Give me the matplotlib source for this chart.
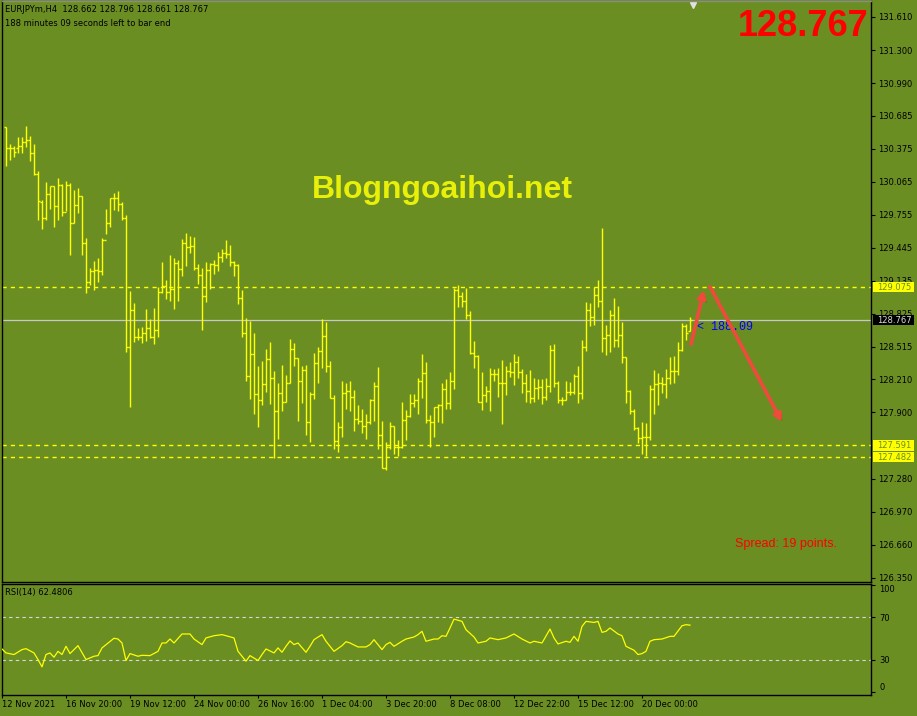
import matplotlib
matplotlib.use('Agg')
import matplotlib.pyplot as plt
import matplotlib.patheffects as pe
import matplotlib.transforms as mtrans
from matplotlib.patches import Rectangle
import numpy as np

plt.rcParams['font.family'] = ['DejaVu Sans']
plt.rcParams['font.size'] = 6

# EURJPYm H4 bars, 12 Nov - 21 Dec 2021
opens = [130.58, 130.38, 130.38, 130.38, 130.40, 130.44, 130.46, 130.33, 130.14, 129.87,
         129.72, 129.95, 130.02, 129.84, 130.03, 129.78, 130.03, 129.68, 129.85, 129.93,
         129.49, 129.12, 129.23, 129.24, 129.23, 129.52, 129.68, 129.91, 129.91, 129.86,
         129.72, 128.51, 128.86, 128.61, 128.61, 128.65, 128.69, 128.61, 128.67, 129.03,
         129.09, 129.03, 129.06, 129.30, 129.25, 129.49, 129.45, 129.46, 129.26, 129.19,
         128.99, 129.24, 129.29, 129.28, 129.36, 129.40, 129.39, 129.31, 129.28, 128.97,
         128.65, 128.24, 128.45, 128.07, 128.02, 128.17, 128.40, 128.22, 127.91, 128.08,
         128.00, 128.18, 128.50, 128.41, 128.20, 128.30, 127.81, 128.07, 128.36, 128.48,
         128.62, 128.34, 128.04, 127.63, 127.76, 128.08, 128.10, 128.05, 127.84, 127.82,
         127.77, 127.81, 128.02, 128.15, 127.69, 127.38, 127.58, 127.77, 127.58, 127.58,
         127.83, 127.87, 127.99, 128.02, 128.20, 128.27, 127.83, 127.81, 127.95, 127.97,
         128.12, 127.99, 128.20, 129.05, 128.99, 128.95, 128.81, 128.46, 128.43, 128.00,
         128.06, 128.10, 128.26, 128.26, 128.18, 128.18, 128.29, 128.28, 128.37, 128.28,
         128.18, 128.10, 128.04, 128.13, 128.14, 128.05, 128.15, 128.49, 128.18, 128.02,
         128.02, 128.09, 128.09, 128.24, 128.08, 128.51, 128.86, 128.80, 129.00, 128.95,
         128.60, 128.63, 128.81, 128.58, 128.63, 128.42, 128.10, 127.91, 127.75, 127.66,
         127.67, 127.67, 128.12, 128.17, 128.18, 128.17, 128.22, 128.29, 128.29, 128.49,
         128.71, 128.662]
highs = [130.58, 130.42, 130.40, 130.48, 130.48, 130.59, 130.49, 130.42, 130.17, 129.89,
         130.06, 130.02, 130.02, 130.10, 130.04, 130.07, 130.05, 129.99, 130.01, 129.93,
         129.54, 129.26, 129.32, 129.35, 129.54, 129.81, 129.91, 129.96, 129.98, 129.87,
         129.75, 129.04, 128.93, 128.69, 128.70, 128.87, 128.78, 128.88, 129.08, 129.31,
         129.14, 129.38, 129.35, 129.33, 129.53, 129.58, 129.56, 129.55, 129.29, 129.26,
         129.31, 129.30, 129.33, 129.41, 129.43, 129.52, 129.47, 129.32, 129.29, 129.05,
         128.79, 128.76, 128.65, 128.34, 128.38, 128.50, 128.56, 128.29, 128.18, 128.35,
         128.25, 128.59, 128.55, 128.41, 128.34, 128.35, 128.09, 128.46, 128.51, 128.78,
         128.75, 128.38, 128.06, 127.81, 128.20, 128.18, 128.20, 128.11, 127.97, 127.93,
         127.89, 128.03, 128.19, 128.33, 127.82, 127.62, 127.81, 127.77, 127.64, 128.00,
         127.92, 128.07, 128.07, 128.22, 128.45, 128.37, 127.88, 127.95, 127.98, 128.18,
         128.21, 128.28, 129.07, 129.10, 129.03, 129.07, 128.85, 128.57, 128.44, 128.28,
         128.15, 128.32, 128.31, 128.32, 128.39, 128.34, 128.37, 128.45, 128.43, 128.31,
         128.26, 128.30, 128.22, 128.21, 128.21, 128.22, 128.53, 128.54, 128.20, 128.05,
         128.20, 128.19, 128.26, 128.34, 128.58, 128.94, 128.93, 129.08, 129.14, 129.63,
         128.72, 128.86, 128.97, 128.90, 128.75, 128.42, 128.11, 127.93, 127.76, 127.81,
         127.80, 128.16, 128.30, 128.27, 128.23, 128.31, 128.42, 128.43, 128.56, 128.74,
         128.73, 128.796]
lows = [130.21, 130.27, 130.30, 130.33, 130.33, 130.39, 130.26, 130.13, 129.71, 129.62,
        129.71, 129.81, 129.64, 129.71, 129.74, 129.79, 129.38, 129.68, 129.77, 129.38,
        129.02, 129.10, 129.05, 129.12, 129.19, 129.57, 129.64, 129.80, 129.79, 129.71,
        128.47, 127.95, 128.56, 128.58, 128.55, 128.57, 128.60, 128.54, 128.61, 129.02,
        128.96, 128.95, 128.87, 128.95, 129.18, 129.27, 129.40, 129.24, 129.11, 128.67,
        128.94, 129.06, 129.20, 129.23, 129.31, 129.35, 129.27, 129.18, 128.92, 128.61,
        128.20, 128.03, 127.89, 127.76, 127.97, 128.09, 127.98, 127.47, 127.65, 127.91,
        128.00, 128.18, 128.34, 127.82, 127.99, 127.69, 127.62, 128.03, 128.18, 128.32,
        128.28, 128.04, 127.56, 127.53, 127.67, 127.93, 127.91, 127.73, 127.79, 127.71,
        127.65, 127.79, 127.82, 127.56, 127.38, 127.36, 127.56, 127.51, 127.49, 127.57,
        127.64, 127.86, 127.95, 127.89, 128.04, 127.80, 127.58, 127.67, 127.81, 127.80,
        127.93, 127.93, 128.12, 128.89, 128.89, 128.78, 128.45, 128.32, 128.00, 127.92,
        128.00, 127.91, 128.20, 128.05, 127.79, 128.06, 128.23, 128.16, 128.22, 128.08,
        128.00, 127.99, 128.00, 128.03, 127.98, 128.02, 128.09, 128.14, 127.99, 127.97,
        128.02, 128.06, 128.07, 127.99, 128.03, 128.48, 128.71, 128.72, 128.89, 128.47,
        128.44, 128.47, 128.51, 128.51, 128.36, 127.99, 127.89, 127.74, 127.61, 127.51,
        127.49, 127.64, 127.89, 127.97, 128.08, 128.04, 128.17, 128.18, 128.25, 128.48,
        128.58, 128.661]
closes = [130.38, 130.38, 130.34, 130.40, 130.44, 130.46, 130.33, 130.14, 129.88, 129.72,
          129.95, 130.02, 129.84, 130.03, 129.78, 130.03, 129.68, 129.85, 129.93, 129.49,
          129.12, 129.23, 129.24, 129.23, 129.52, 129.68, 129.91, 129.91, 129.86, 129.72,
          128.51, 128.86, 128.61, 128.61, 128.65, 128.69, 128.61, 128.67, 129.03, 129.09,
          129.03, 129.06, 129.30, 129.25, 129.49, 129.45, 129.46, 129.26, 129.19, 128.99,
          129.24, 129.29, 129.28, 129.36, 129.40, 129.39, 129.31, 129.28, 128.97, 128.65,
          128.24, 128.45, 128.07, 128.02, 128.17, 128.40, 128.22, 127.91, 128.08, 128.00,
          128.18, 128.50, 128.41, 128.20, 128.30, 127.81, 128.07, 128.36, 128.48, 128.62,
          128.34, 128.04, 127.63, 127.76, 128.08, 128.10, 128.05, 127.84, 127.82, 127.77,
          127.81, 128.02, 128.15, 127.69, 127.38, 127.58, 127.77, 127.58, 127.58, 127.83,
          127.87, 127.99, 128.02, 128.20, 128.27, 127.83, 127.81, 127.95, 127.97, 128.12,
          127.99, 128.20, 129.05, 128.99, 128.95, 128.81, 128.46, 128.43, 128.00, 128.06,
          128.10, 128.26, 128.26, 128.18, 128.18, 128.29, 128.28, 128.37, 128.28, 128.18,
          128.10, 128.04, 128.13, 128.14, 128.05, 128.15, 128.49, 128.18, 128.02, 128.02,
          128.09, 128.09, 128.24, 128.08, 128.51, 128.86, 128.80, 129.00, 128.95, 128.60,
          128.63, 128.81, 128.58, 128.63, 128.42, 128.10, 127.91, 127.75, 127.66, 127.67,
          127.67, 128.12, 128.17, 128.18, 128.17, 128.22, 128.29, 128.29, 128.49, 128.71,
          128.65, 128.767]

# RSI(14) read at these bars
rsi_bar = [-1, 0, 2, 4, 5, 7, 8, 9, 10, 11, 12, 13, 14, 15, 16, 18, 20, 22, 23, 24,
           27, 28, 29, 30, 31, 33, 34, 36, 38, 39, 40, 41, 42, 44, 46, 47, 49, 50, 52, 54,
           55, 57, 58, 60, 61, 63, 64, 65, 67, 68, 69, 70, 71, 72, 73, 75, 76, 77, 79, 80,
           82, 84, 85, 86, 88, 90, 91, 92, 94, 95, 96, 97, 99, 100, 102, 103, 104, 105, 107, 108,
           109, 110, 111, 112, 114, 115, 117, 118, 120, 121, 123, 125, 127, 129, 131, 132, 134, 136, 137, 138,
           140, 141, 142, 143, 144, 145, 147, 148, 149, 150, 151, 153, 154, 155, 157, 158, 159, 160, 161, 162,
           164, 166, 167, 169, 170, 171]
rsi_val = [40.2, 36.5, 35.0, 39.6, 40.5, 36.5, 30.3, 23.5, 35.0, 36.5, 32.5, 38.0, 35.0, 42.7, 35.9, 43.3, 30.3, 33.4, 34.0, 41.2,
           50.2, 49.5, 45.8, 29.4, 35.9, 33.4, 34.3, 34.0, 38.0, 45.8, 45.8, 49.5, 45.8, 54.2, 54.2, 49.5, 44.3, 50.5, 52.6, 53.6,
           52.6, 50.5, 38.0, 28.8, 34.0, 29.4, 35.0, 40.2, 36.5, 41.2, 37.1, 42.7, 47.7, 44.3, 45.8, 37.1, 42.7, 48.9, 53.6, 47.4,
           38.0, 43.3, 47.0, 45.8, 42.1, 42.1, 44.3, 48.9, 39.6, 44.3, 46.4, 42.7, 47.4, 49.5, 51.4, 53.6, 56.7, 47.4, 49.5, 49.5,
           52.6, 52.0, 59.8, 68.1, 66.0, 58.2, 51.4, 45.8, 47.4, 50.5, 48.9, 50.5, 54.2, 49.5, 45.8, 47.4, 45.8, 58.8, 50.5, 44.9,
           47.4, 46.4, 52.0, 47.4, 61.3, 66.0, 65.0, 66.0, 55.7, 56.7, 59.8, 54.2, 52.6, 42.7, 39.0, 35.0, 35.9, 38.0, 47.4, 48.9,
           49.5, 52.0, 52.0, 61.9, 62.9, 62.48]

price_ticks = [131.610, 131.300, 130.990, 130.685, 130.375, 130.065, 129.755, 129.445, 129.135,
               128.825, 128.515, 128.210, 127.900, 127.280, 126.970, 126.660, 126.350]
levels = [129.075, 127.591, 127.482]
bid = 128.767

date_bars = [-1, 15, 31, 47, 63, 79, 95, 111, 127, 143, 159]
date_labels = ['12 Nov 2021', '16 Nov 20:00', '19 Nov 12:00', '24 Nov 00:00', '26 Nov 16:00',
               '1 Dec 04:00', '3 Dec 20:00', '8 Dec 08:00', '12 Dec 22:00', '15 Dec 12:00',
               '20 Dec 00:00']

# hand-drawn forecast arrows (bar index, price)
arrow_from = [(171.25, 128.54), (176.0, 129.08)]
arrow_to = [(174.5, 129.05), (194.0, 127.81)]

W, H = 917, 716
BG = '#6b8e23'
YEL = '#ffff00'


def box(x0, y0, x1, y1):
    return [x0 / W, 1 - y1 / H, (x1 - x0) / W, (y1 - y0) / H]


fig = plt.figure(figsize=(W / 100, H / 100), dpi=100, facecolor=BG)
ax = fig.add_axes(box(2, 1, 871, 582), facecolor=BG)
rx = fig.add_axes(box(2, 584, 871, 695), facecolor=BG)

x = np.arange(len(closes))
ax.vlines(x, lows, highs, color=YEL, lw=1.0, zorder=3)
ax.hlines(opens, x - 0.55, x, color=YEL, lw=1.0, zorder=3)
ax.hlines(closes, x, x + 0.55, color=YEL, lw=1.0, zorder=3)

for lv in levels:
    ax.axhline(lv, color=YEL, lw=1.0, ls=(0, (3, 3)), zorder=2)
ax.axhline(bid, color='#c8c8c8', lw=0.9, zorder=2)

ax.set_xlim(-1, 216.25)
ax.set_ylim(126.31, 131.76)
ax.yaxis.tick_right()
ax.set_yticks(price_ticks)
ax.set_yticklabels(['%.3f' % v for v in price_ticks])
ax.tick_params(axis='y', direction='out', length=3, width=0.8, pad=2, labelsize=6, colors='black')
ax.tick_params(axis='x', bottom=False, labelbottom=False)
for s in ax.spines.values():
    s.set_color('black')
    s.set_linewidth(1)
ax.spines['top'].set_color('#8a8a8a')

# price labels on the right scale (they cover the nearby scale labels, as in the terminal)
blend = mtrans.blended_transform_factory(ax.transAxes, ax.transData)
for lv, fc, tc in [(levels[0], YEL, BG), (levels[1], YEL, BG), (levels[2], YEL, BG), (bid, 'black', '#dcdcdc')]:
    ax.add_patch(Rectangle((1.0023, lv - 0.049), 0.047, 0.098, transform=blend,
                           facecolor=fc, edgecolor='none', clip_on=False, zorder=4))
    ax.text(1.0265, lv, '%.3f' % lv, transform=blend, ha='center', va='center',
            fontsize=6, color=tc, clip_on=False, zorder=5)

# arrows
for (x0, y0), (x1, y1) in zip(arrow_from, arrow_to):
    ax.annotate('', xy=(x1, y1), xytext=(x0, y0), zorder=6,
                arrowprops=dict(arrowstyle='-|>', color='#ef4a3c', lw=2.6, mutation_scale=11,
                                shrinkA=0, shrinkB=0,
                                path_effects=[pe.withSimplePatchShadow(offset=(1.5, -1.5),
                                                                       shadow_rgbFace='#3d5a12', alpha=0.7)]))

ax.text(697 / W, 1 - 327 / H, '< 188.09', transform=fig.transFigure, color='#0000ff',
        family='Liberation Mono', fontsize=8.5, va='center', ha='left', zorder=4)

# RSI panel
rx.plot(rsi_bar, rsi_val, color=YEL, lw=0.9, zorder=3)
for lv in (70, 30):
    rx.axhline(lv, color='#d8d8d8', lw=0.8, ls=(0, (3, 3)), zorder=2)
rx.set_xlim(-1, 216.25)
rx.set_ylim(-2.8, 100.9)
rx.yaxis.tick_right()
rx.set_yticks([100, 70, 30, 0])
rx.set_yticklabels(['100', '70', '30', '0'])
rx.get_yticklabels()[0].set_va('top')
rx.get_yticklabels()[3].set_va('bottom')
rx.tick_params(axis='y', direction='out', length=3, width=0.8, pad=3, labelsize=6, colors='black')
rx.set_xticks(date_bars)
rx.set_xticklabels(date_labels, ha='left')
rx.tick_params(axis='x', direction='out', length=2.5, width=0.8, pad=0.8, labelsize=6, colors='black')
for s in rx.spines.values():
    s.set_color('black')
    s.set_linewidth(1)

# texts
fig.text(5 / W, 1 - 10 / H, 'EURJPYm,H4  128.662 128.796 128.661 128.767', fontsize=6, va='center')
fig.text(5 / W, 1 - 24 / H, '188 minutes 09 seconds left to bar end', fontsize=6, va='center')
fig.text(5 / W, 1 - 592 / H, 'RSI(14) 62.4806', fontsize=6, va='center')
fig.text(868 / W, 1 - 26 / H, '128.767', ha='right', va='center', color='#ff0000',
         fontsize=26, fontweight='bold', family='Liberation Sans')
fig.text(442 / W, 1 - 190 / H, 'Blogngoaihoi.net', ha='center', va='center', color='#e8f00a',
         fontsize=23, fontweight='bold', family='Liberation Sans')
fig.text(735 / W, 1 - 544 / H, 'Spread: 19 points.', color='#ff0000', fontsize=9, va='center',
         family='Liberation Sans')
ax.plot([693 / W], [1 - 5 / H], marker='v', markersize=5, color='#e0e0e0',
        transform=fig.transFigure, clip_on=False)

fig.savefig('out.png', dpi=100, facecolor=BG)
